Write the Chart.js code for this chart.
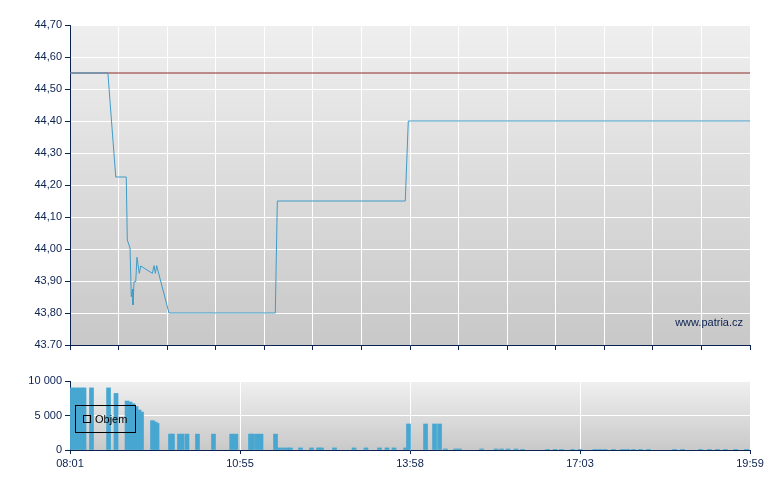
<!DOCTYPE html>
<html>
<head>
<meta charset="utf-8">
<script src="https://cdn.jsdelivr.net/npm/chart.js@4.4.0/dist/chart.umd.min.js"></script>
<style>
  body { margin: 0; background: #fff; width: 780px; height: 490px; overflow: hidden; }
  #price { position: absolute; left: 0; top: 0; }
  #volume { position: absolute; left: 0; top: 360px; }
</style>
</head>
<body>
<canvas id="price" width="780" height="360"></canvas>
<canvas id="volume" width="780" height="110"></canvas>
<script>
// price line, time in minutes since midnight
var priceTimes = [481, 521, 529.3, 540.4, 541.5, 544.4, 545.7, 547.2, 547.5, 548.6, 550.4, 551.7, 554.2, 555.7, 567.9, 569.7, 571.1, 572.5, 585.5, 697.8, 699.9, 835, 838.2, 1199];
var priceValues = [44.55, 44.55, 44.225, 44.225, 44.028, 44.003, 43.851, 43.875, 43.825, 43.898, 43.898, 43.974, 43.924, 43.947, 43.924, 43.948, 43.924, 43.948, 43.80, 43.80, 44.15, 44.15, 44.40, 44.40];
var refPrice = 44.55;

var priceTickLabels = ['43.70', '43,80', '43,90', '44,00', '44,10', '44,20', '44,30', '44,40', '44,50', '44,60', '44,70'];

// volume bars
var volTimes = [483.1, 487.3, 491.6, 495.8, 503.7, 521.7, 529.6, 541.2, 544.4, 547.5, 550.7, 553.9, 556.5,
  568.1, 570.8, 572.9, 587.1, 589.2, 596.6, 599.3, 604.5, 615.6, 632.5, 651.7, 656.1, 671.6, 673.7, 678.5, 682.7,
  698.0, 700.6, 705.4, 710.1, 713.8, 724.4, 736.0, 743.4, 746.6, 760.3, 780.9, 793.5, 807.8, 815.7, 823.1, 835.3,
  838.4, 856.4, 865.9, 871.2, 877.5, 888.1, 892.3, 915.5, 930.8, 936.6, 943.5, 951.9,
  958.8, 985.2, 993.1, 999.9, 1011.6, 1019.5, 1035.3, 1040.6, 1045.9, 1054.9, 1064.4, 1069.6, 1076.0, 1083.4, 1091.8,
  1119.3, 1127.7, 1146.7, 1156.2, 1164.7, 1173.1, 1183.7, 1195.3];
var volValues = [9000, 9000, 9000, 9000, 9000, 9000, 8200, 7100, 6950, 6700, 6300, 5800, 5500,
  4250, 4050, 3850, 2300, 2300, 2300, 2300, 2300, 2300, 2300, 2300, 2300, 2300, 2300, 2300, 2300,
  2300, 300, 300, 300, 300, 300, 300, 300, 300, 300, 300, 300, 300, 300, 300, 300,
  3770, 3770, 3770, 3770, 150, 150, 150, 150, 150, 150, 150, 150,
  100, 100, 100, 100, 100, 100, 100, 100, 100, 100, 100, 100, 100, 100, 100,
  100, 100, 100, 100, 100, 100, 100, 100];

var volTickValues = [0, 5000, 10000];
var volTickLabels = ['0', '5 000', '10 000'];

var timeTickLabels = ['08:01', '10:55', '13:58', '17:03', '19:59'];
var timeMin = 481;
var timeMax = 1199;

var navy = '#0b2150';
var lineBlue = '#3f9cc9';
var barBlue = '#47a7d1';

Chart.defaults.font.family = 'Arial, "Liberation Sans", sans-serif';
Chart.defaults.font.size = 11;
Chart.defaults.color = navy;

// gray gradient behind the plot
var plotBackground = {
  id: 'plotBackground',
  beforeDraw: function(chart, args, opts) {
    var a = chart.chartArea;
    var c = chart.ctx;
    var g = c.createLinearGradient(0, a.top, 0, a.bottom);
    g.addColorStop(0, opts.top);
    g.addColorStop(1, opts.bottom);
    c.save();
    c.fillStyle = g;
    c.fillRect(a.left, a.top, a.right - a.left, a.bottom - a.top);
    c.restore();
  }
};

var watermark = {
  id: 'watermark',
  beforeDatasetsDraw: function(chart) {
    var c = chart.ctx;
    c.save();
    c.font = '11px Arial, "Liberation Sans", sans-serif';
    c.fillStyle = navy;
    c.textAlign = 'right';
    c.textBaseline = 'middle';
    c.fillText('www.patria.cz', chart.chartArea.right - 7, chart.chartArea.bottom - 22);
    c.restore();
  }
};

var volumeLegend = {
  id: 'volumeLegend',
  afterDraw: function(chart) {
    var c = chart.ctx;
    c.save();
    c.strokeStyle = '#000';
    c.lineWidth = 1;
    c.strokeRect(75.5, 45.5, 60, 27);
    c.strokeRect(83.5, 55.5, 7, 7);
    c.font = '11px Arial, "Liberation Sans", sans-serif';
    c.fillStyle = '#000';
    c.textBaseline = 'middle';
    c.fillText('Objem', 95, 59.5);
    c.restore();
  }
};

function quarterTicks() {
  var t = [];
  for (var i = 0; i <= 4; i++) t.push(timeMin + i * (timeMax - timeMin) / 4);
  return t;
}

var pricePoints = priceTimes.map(function(t, i) { return {x: t, y: priceValues[i]}; });
var refPoints = [{x: timeMin, y: refPrice}, {x: timeMax, y: refPrice}];

new Chart(document.getElementById('price'), {
  type: 'line',
  data: {
    datasets: [{
      data: pricePoints,
      borderColor: lineBlue,
      borderWidth: 1,
      pointRadius: 0,
      tension: 0,
      order: 0
    }, {
      data: refPoints,
      borderColor: '#8e2a28',
      borderWidth: 1,
      pointRadius: 0,
      order: 1
    }]
  },
  options: {
    responsive: false,
    animation: false,
    layout: { padding: { top: 25, right: 30, left: 0, bottom: 0 } },
    plugins: {
      legend: { display: false },
      tooltip: { enabled: false },
      plotBackground: { top: '#efefef', bottom: '#c8c8c8' }
    },
    scales: {
      x: {
        type: 'linear',
        min: timeMin,
        max: timeMax,
        afterBuildTicks: function(scale) {
          var t = [];
          for (var i = 0; i <= 14; i++) t.push({value: timeMin + i * (timeMax - timeMin) / 14});
          scale.ticks = t;
        },
        afterFit: function(scale) { scale.height = 15; },
        ticks: { callback: function() { return ''; } },
        grid: { color: '#ffffff', lineWidth: 1, tickColor: navy, tickLength: 5 },
        border: { color: navy, width: 1 }
      },
      y: {
        min: 43.7,
        max: 44.7,
        afterBuildTicks: function(scale) {
          scale.ticks = priceTickLabels.map(function(l) { return {value: parseFloat(l.replace(',', '.'))}; });
        },
        afterFit: function(scale) { scale.width = 70; },
        ticks: {
          padding: 3,
          callback: function(v, i) { return priceTickLabels[i]; }
        },
        grid: { color: '#ffffff', lineWidth: 1, tickColor: navy, tickLength: 5 },
        border: { color: navy, width: 1 }
      }
    }
  },
  plugins: [plotBackground, watermark]
});

var volPoints = volTimes.map(function(t, i) { return {x: t, y: volValues[i]}; });

new Chart(document.getElementById('volume'), {
  type: 'bar',
  data: {
    datasets: [{
      data: volPoints,
      backgroundColor: barBlue,
      borderWidth: 0,
      barThickness: 4
    }]
  },
  options: {
    responsive: false,
    animation: false,
    layout: { padding: { top: 21, right: 30, left: 0, bottom: 0 } },
    plugins: {
      legend: { display: false },
      tooltip: { enabled: false },
      plotBackground: { top: '#f0f0f0', bottom: '#c9c9c9' }
    },
    scales: {
      x: {
        type: 'linear',
        offset: false,
        min: timeMin,
        max: timeMax,
        afterBuildTicks: function(scale) {
          scale.ticks = quarterTicks().map(function(v) { return {value: v}; });
        },
        afterFit: function(scale) { scale.height = 20; },
        ticks: {
          padding: 3,
          maxRotation: 0,
          autoSkip: false,
          callback: function(v, i) { return timeTickLabels[i]; }
        },
        grid: { offset: false, color: '#ffffff', lineWidth: 1, tickColor: navy, tickLength: 4 },
        border: { color: navy, width: 1 }
      },
      y: {
        min: 0,
        max: 10000,
        afterBuildTicks: function(scale) {
          scale.ticks = volTickValues.map(function(v) { return {value: v}; });
        },
        afterFit: function(scale) { scale.width = 70; },
        ticks: {
          padding: 3,
          callback: function(v, i) { return volTickLabels[i]; }
        },
        grid: { color: '#ffffff', lineWidth: 1, tickColor: navy, tickLength: 5 },
        border: { color: navy, width: 1 }
      }
    }
  },
  plugins: [plotBackground, volumeLegend]
});
</script>
</body>
</html>
